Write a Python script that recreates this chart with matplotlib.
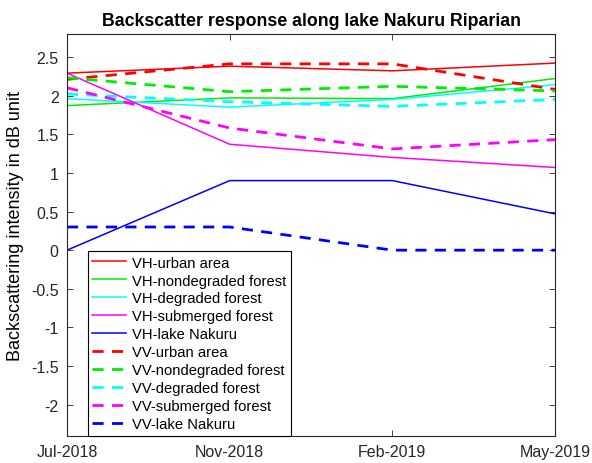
import numpy as np
import matplotlib.pyplot as plt

plt.rcParams['font.family'] = ['Liberation Sans', 'DejaVu Sans']

# data
dates = ['Jul-2018', 'Nov-2018', 'Feb-2019', 'May-2019']

vh_urban = [2.29, 2.38, 2.32, 2.42]
vh_nondegraded = [1.87, 1.97, 1.96, 2.22]
vh_degraded = [1.96, 1.85, 1.95, 2.14]
vh_submerged = [2.29, 1.37, 1.20, 1.07]
vh_lake = [0.0, 0.90, 0.90, 0.47]

vv_urban = [2.21, 2.41, 2.41, 2.08]
vv_nondegraded = [2.23, 2.05, 2.12, 2.06]
vv_degraded = [2.02, 1.92, 1.86, 1.95]
vv_submerged = [2.10, 1.58, 1.31, 1.43]
vv_lake = [0.30, 0.30, 0.0, 0.0]

series = [
    ('VH-urban area', vh_urban, 'red', '-'),
    ('VH-nondegraded forest', vh_nondegraded, '#00ee00', '-'),
    ('VH-degraded forest', vh_degraded, 'cyan', '-'),
    ('VH-submerged forest', vh_submerged, 'magenta', '-'),
    ('VH-lake Nakuru', vh_lake, 'blue', '-'),
    ('VV-urban area', vv_urban, 'red', '--'),
    ('VV-nondegraded forest', vv_nondegraded, '#00ee00', '--'),
    ('VV-degraded forest', vv_degraded, 'cyan', '--'),
    ('VV-submerged forest', vv_submerged, 'magenta', '--'),
    ('VV-lake Nakuru', vv_lake, 'blue', '--'),
]

fig = plt.figure(figsize=(5.92, 4.64), dpi=100)
ax = fig.add_axes([0.1132, 0.0588, 0.8243, 0.8664])

x = np.arange(len(dates))
for label, vals, color, ls in series:
    if ls == '-':
        ax.plot(x, vals, color=color, linestyle=ls, linewidth=1.1, label=label)
    else:
        ax.plot(x, vals, color=color, linestyle=ls, linewidth=2.0,
                dashes=(4, 3), label=label)

ax.set_xlim(0, 3)
ax.set_ylim(-2.4, 2.8)
ax.set_xticks(x)
ax.set_xticklabels(dates)
ax.set_yticks(np.arange(-2, 2.51, 0.5))
ax.set_yticklabels(['-2', '-1.5', '-1', '-0.5', '0', '0.5', '1', '1.5', '2', '2.5'])

# MATLAB-like box with inward ticks on all sides
gray = '#262626'
for s in ax.spines.values():
    s.set_color(gray)
    s.set_linewidth(0.8)
ax.tick_params(direction='in', length=4, width=0.6, colors=gray,
               labelsize=11.5, top=True, right=True, pad=6)

ax.set_title('Backscatter response along lake Nakuru Riparian',
             fontsize=12.8, fontweight='bold', pad=6)
ax.set_ylabel('Backscattering intensity in dB unit', fontsize=13)
ax.yaxis.set_label_coords(-0.088, 0.524)

leg = ax.legend(loc='lower left', bbox_to_anchor=(0.043, 0.0), borderaxespad=0,
                fontsize=10.6, handlelength=2.3, labelspacing=0.27,
                fancybox=False, framealpha=1, edgecolor='black',
                borderpad=0.3, handletextpad=0.4)
leg.get_frame().set_linewidth(0.8)

plt.savefig('out.png', dpi=100)
plt.close()
